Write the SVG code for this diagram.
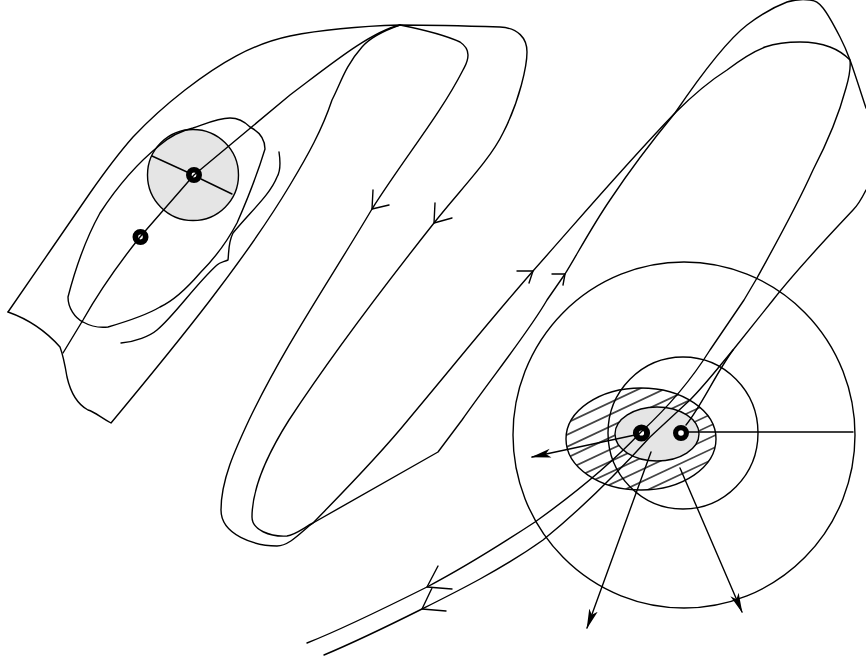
<svg xmlns="http://www.w3.org/2000/svg" width="866" height="661" viewBox="0 0 866 661">
<style>
.l{fill:none;stroke:#000;stroke-width:1.4;stroke-linejoin:round;stroke-linecap:round}
.g{fill:#e5e5e5;stroke:#000;stroke-width:1.4}
.c{fill:none;stroke:#000;stroke-width:1.4}
.r{fill:#fff;stroke:#000}
.h{fill:none;stroke:#444;stroke-width:1.8}
</style>
<defs>
<marker id="head" viewBox="0 0 20 10" refX="19" refY="5" markerWidth="20" markerHeight="10" markerUnits="userSpaceOnUse" orient="auto">
<path d="M20 5L0 0.5L5 5L0 9.5Z" fill="#000"/>
</marker>
<clipPath id="hc"><ellipse cx="641" cy="439" rx="75" ry="51"/></clipPath>
</defs>
<rect width="866" height="661" fill="#fff"/>
<g id="large-circle"><ellipse class="c" cx="684" cy="435" rx="171" ry="173"/></g>
<g id="hatched-ellipse">
<ellipse cx="641" cy="439" rx="75" ry="51" fill="#fff"/>
<g clip-path="url(#hc)">
<path class="h" d="M560 391L720 316M560 403L720 328M560 414L720 339M560 426L720 351M560 438L720 363M560 450L720 375M560 461L720 386M560 473L720 398M560 485L720 410M560 496L720 421M560 508L720 433M560 520L720 445M560 531L720 456M560 543L720 468M560 555L720 480"/>
</g>
<ellipse class="c" cx="641" cy="439" rx="75" ry="51"/>
</g>
<g id="inner-ellipse"><ellipse class="g" cx="657" cy="434" rx="42" ry="27"/></g>
<g id="medium-circle"><ellipse class="c" cx="683" cy="433" rx="75" ry="76"/></g>
<g id="left-circle"><circle class="g" cx="193" cy="175" r="45.5"/></g>
<g id="node-a"><circle class="r" cx="194" cy="175" r="5.2" stroke-width="5.6"/></g>
<g id="node-b"><circle class="r" cx="140.5" cy="237" r="5.2" stroke-width="5.6"/></g>
<g id="node-c"><circle class="r" cx="641.5" cy="433" r="5.6" stroke-width="6"/></g>
<g id="node-d"><circle class="r" cx="681" cy="433" r="5.4" stroke-width="5.2"/></g>
<g id="connectors">
<path class="l" d="M8 312C36 272 62 233 90 193C104 173 118 154 133 137C149 120 167 104 185 90C220 63 252 44 290 36C325 29 365 26 400 25C435 25 470 26 500 27C518 28 527 38 527 52C527 65 520 100 503 133C490 160 460 190 434 223C385 285 335 350 289 420C270 450 252 485 252 517C252 530 270 537 287 536C295 535 305 527 313 523L438 452L462 420C490 380 530 330 547 300L565 274C575.500 257.300 591.700 226.800 610 200C628 173 652 141 675 113C692 88 725 42 747 25C760 15 774 7 787 2C797.500 -1.200 804 -1 810 0C816 1 818 1.800 823 8C828 14.200 835.500 28.300 840 37C844.500 45.700 845.700 48.200 850 60C854.300 71.800 862 96 866 108"/>
<path class="l" d="M400 25C420 29 447 36 460 42C466 46 468 50 468 55C468 62 465 66 463 70C440 115 405 157 372 209C330 280 285 345 249 420C235 450 221 480 221 510C221 535 255 546 277 546C290 546 303 530 313 523C345 490 377 458 408 420C450 370 490 320 533 271C580 218 625 165 675 113C693 95 708 82 727 70C740 60 752 52 765 47C777 43 788 42 800 42C812 42 822 44 830 47C838 50 845 55 850 60C851 70 849 78 846 88C838 118 826 145 813 170C795 210 775 245 757 278L744 300L710 350C690 382 665 410 641 432C610 465 570 497 535 522C500 545 465 567 427 587C385 608 345 628 307 643"/>
<path class="l" d="M866 190C862 198 858 205 853 210C825 240 798 268 773 300L733 350C715 375 702 405 686 425"/>
<path class="l" d="M733 350C718 368 705 385 690 400L650 437C620 470 580 510 543 540C522 555 500 568 480 579C460 590 440 600 422 609C390 625 355 642 324 655"/>
<path class="l" d="M400 25C370 32 330 65 290 95L194 175L140 237C120 262 100 290 83 320L63 353"/>
<path class="l" d="M400 25C380 32 368 40 362 47C345 66 340 85 332 100C322 130 308 155 290 185C245 260 180 340 111 423C100 417 95 412 88 410C75 403 70 390 67 377C65 365 63 355 60 347C45 330 25 318 8 312"/>
<path class="l" d="M265 149C265 138 258 131 250 127C243 120 236 118 230 118C218 118 205 124 193 128C180 131 168 138 160 145C135 165 115 190 100 213C85 240 75 270 68 297C68 308 75 318 83 322C92 327 100 328 108 327C125 322 145 316 160 307C175 300 188 287 200 273C215 258 228 240 237 223C248 198 258 172 265 149Z"/>
<path class="l" d="M279 152C281 165 280 172 277 177C270 195 250 212 233 233C228 243 229 252 228 260C224 262 220 262 217 265C195 285 175 315 157 330C150 336 135 342 121 343"/>
<path class="l" d="M152 156L187 172M201 179L232 194"/>
<path class="l" d="M688 432H853"/>
<path class="l" d="M373 190L372 209L389 205M435 203L434 223L452 218M517 271H533L529 283M552 274H565L563 285M438 566L427 587L452 589M432 588L422 609L446 611"/>
<path class="l" marker-end="url(#head)" d="M635 435L532 457"/>
<path class="l" marker-end="url(#head)" d="M651 452L587 628"/>
<path class="l" marker-end="url(#head)" d="M680 468L742 612"/>
</g>
</svg>
